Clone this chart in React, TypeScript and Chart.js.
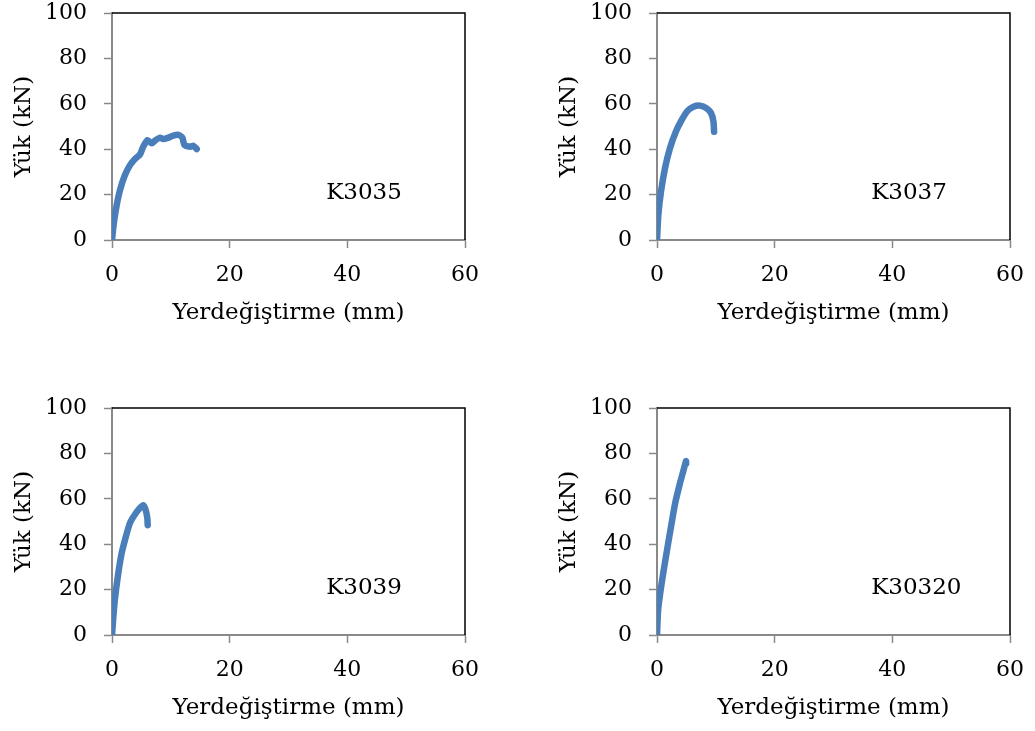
import React, { useEffect, useRef } from "react";
import { Chart, registerables } from "chart.js";

Chart.register(...registerables);

// Specimen names
const specimenNames = ["K3035", "K3037", "K3039", "K30320"];

// Displacement (mm) and load (kN) for each specimen
const k3035X = [0, 0.34, 0.8, 1.36, 2.2, 3.06, 3.9, 4.76, 5.3, 6.07, 6.75, 7.4, 8.16, 8.7, 9.6, 10.4, 11.3, 11.96, 12.3, 13.3, 13.8, 14.4];
const k3035Y = [0, 8, 15.4, 22, 28.6, 33, 35.7, 37.7, 41.1, 44, 42.6, 44, 45.1, 44.5, 45.1, 46, 46.3, 45.1, 41.9, 41.1, 41.5, 40.1];

const k3037X = [0, 0.23, 0.68, 1.36, 2.2, 3.2, 4.2, 5.15, 6.2, 7.3, 8.45, 9.2, 9.6, 9.7];
const k3037Y = [0, 11, 21.3, 31.6, 40.4, 47.7, 52.9, 56.8, 58.7, 59.2, 58, 55.8, 52.1, 47.7];

const k3039X = [0, 0.4, 0.96, 1.6, 2.3, 3.06, 3.9, 4.76, 5.3, 5.7, 6.0, 6.07];
const k3039Y = [0, 13.4, 25.2, 35.5, 42.8, 49.4, 53.1, 56, 57.2, 55.3, 51.6, 48.4];

const k30320X = [0, 0.2, 0.8, 1.53, 2.3, 3.1, 3.9, 4.5, 4.93, 4.95];
const k30320Y = [0, 11.2, 23, 34.7, 46.5, 58.2, 66.8, 72.5, 76.6, 75.5];

const seriesX = [k3035X, k3037X, k3039X, k30320X];
const seriesY = [k3035Y, k3037Y, k3039Y, k30320Y];

// Axis settings / tick values
const xTicks = [0, 20, 40, 60];
const yTicks = [0, 20, 40, 60, 80, 100];
const xTitle = "Yerdeğiştirme (mm)";
const yTitle = "Yük (kN)";

// Label anchor (in data units)
const labelAt = { x: 36.4, y: 20.7 };

const FONT = "'DejaVu Serif', serif";
const LINE_COLOR = "#4a7ebb";
const AXIS_COLOR = "#898989";

const framePlugin = {
  id: "frameAndLabel",
  afterDraw(chart: any) {
    const { ctx, chartArea, scales } = chart;
    ctx.save();
    ctx.strokeStyle = "#000000";
    ctx.lineWidth = 1.5;
    ctx.beginPath();
    ctx.moveTo(chartArea.left, chartArea.top);
    ctx.lineTo(chartArea.right, chartArea.top);
    ctx.lineTo(chartArea.right, chartArea.bottom);
    ctx.stroke();
    const name = chart.options.plugins.frameAndLabel.text;
    ctx.fillStyle = "#000000";
    ctx.font = "23px " + FONT;
    ctx.textAlign = "left";
    ctx.textBaseline = "middle";
    ctx.fillText(name, scales.x.getPixelForValue(labelAt.x), scales.y.getPixelForValue(labelAt.y));
    ctx.restore();
  },
};

function Panel({ index }: { index: number }) {
  const ref = useRef<HTMLCanvasElement | null>(null);
  useEffect(() => {
    if (!ref.current) return;
    const xs = seriesX[index];
    const ys = seriesY[index];
    const data = xs.map((x, i) => ({ x, y: ys[i] }));
    const chart = new Chart(ref.current, {
      type: "scatter",
      data: {
        datasets: [
          {
            data,
            showLine: true,
            borderColor: LINE_COLOR,
            backgroundColor: LINE_COLOR,
            borderWidth: 6.5,
            pointRadius: 0,
            tension: 0.2,
            borderCapStyle: "round",
            borderJoinStyle: "round",
          } as any,
        ],
      },
      options: {
        animation: false,
        responsive: false,
        devicePixelRatio: 1,
        layout: { padding: { left: 0, top: 13, right: 52, bottom: 0 } },
        plugins: {
          legend: { display: false },
          tooltip: { enabled: false },
          frameAndLabel: { text: specimenNames[index] },
        } as any,
        scales: {
          x: {
            type: "linear",
            min: 0,
            max: 60,
            afterBuildTicks: (scale: any) => {
              scale.ticks = xTicks.map((v) => ({ value: v }));
            },
            afterFit: (scale: any) => {
              scale.height = 125;
              scale.paddingLeft = 0;
              scale.paddingRight = 0;
            },
            grid: { drawOnChartArea: false, drawTicks: true, tickLength: 8, color: AXIS_COLOR, tickColor: AXIS_COLOR, tickWidth: 1.5 },
            border: { color: AXIS_COLOR, width: 2 },
            ticks: { color: "#000", font: { family: FONT, size: 22 }, padding: 14, maxRotation: 0 },
            title: { display: true, text: xTitle, color: "#000", font: { family: FONT, size: 23 }, padding: { top: 0, bottom: 38 } },
          },
          y: {
            type: "linear",
            min: 0,
            max: 100,
            afterBuildTicks: (scale: any) => {
              scale.ticks = yTicks.map((v) => ({ value: v }));
            },
            afterFit: (scale: any) => {
              scale.width = 112;
              scale.paddingTop = 0;
              scale.paddingBottom = 0;
            },
            grid: { drawOnChartArea: false, drawTicks: true, tickLength: 8, color: AXIS_COLOR, tickColor: AXIS_COLOR, tickWidth: 1.5 },
            border: { color: AXIS_COLOR, width: 2 },
            ticks: { color: "#000", font: { family: FONT, size: 22 }, padding: 17 },
            title: { display: true, text: yTitle, color: "#000", font: { family: FONT, size: 23 }, padding: { top: 10, bottom: 0 } },
          },
        },
      },
      plugins: [framePlugin],
    });
    return () => chart.destroy();
  }, [index]);
  return <canvas ref={ref} width={517} height={365} style={{ width: 517, height: 365, display: "block" }} />;
}

const positions = [
  { left: 0, top: 0 },
  { left: 545, top: 0 },
  { left: 0, top: 395 },
  { left: 545, top: 395 },
];

export default function App() {
  return (
    <div style={{ position: "absolute", left: 0, top: 0, width: 1035, height: 731, background: "#ffffff", overflow: "hidden" }}>
      {positions.map((p, i) => (
        <div key={i} style={{ position: "absolute", left: p.left, top: p.top, width: 517, height: 365 }}>
          <Panel index={i} />
        </div>
      ))}
    </div>
  );
}
